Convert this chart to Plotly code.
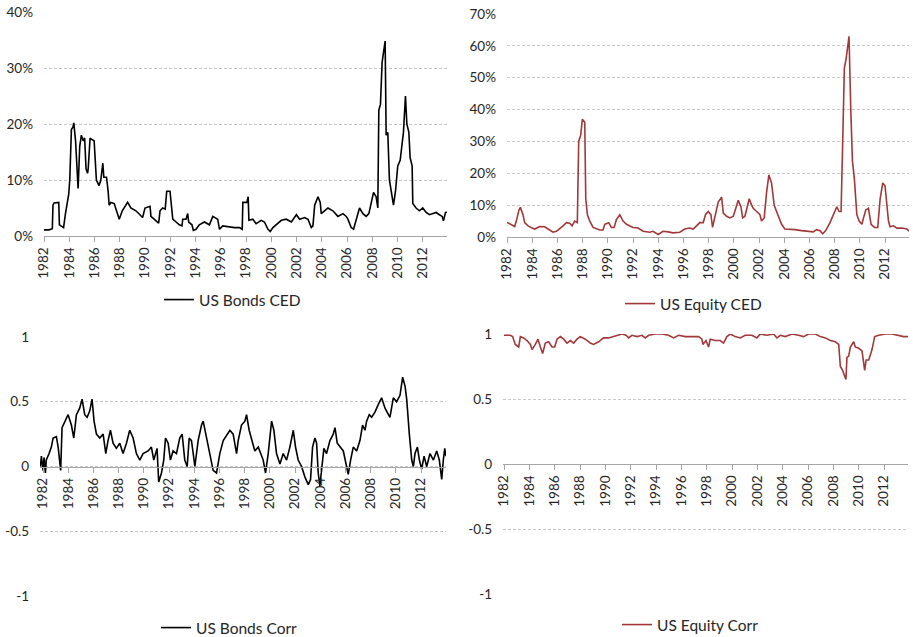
import plotly.graph_objects as go

# ---------------- DATA (decimal year, value) ----------------
bonds_ced = [
    (1982.00, 1.1), (1982.40, 1.1), (1982.66, 1.3), (1982.71, 5.5), (1982.80, 5.9), (1983.17, 6.0),
    (1983.22, 2.0), (1983.35, 1.8), (1983.55, 1.5), (1983.70, 4.0), (1983.83, 6.0), (1983.96, 7.5),
    (1984.04, 10.0), (1984.17, 19.0), (1984.30, 19.5), (1984.36, 20.2), (1984.50, 17.0), (1984.62, 10.0),
    (1984.70, 8.5), (1984.83, 16.0), (1984.96, 18.0), (1985.10, 17.0), (1985.22, 17.5), (1985.33, 12.0),
    (1985.45, 11.2), (1985.50, 12.0), (1985.65, 17.5), (1985.75, 17.3), (1985.97, 17.0), (1986.15, 10.0),
    (1986.36, 9.0), (1986.50, 10.0), (1986.66, 13.0), (1986.74, 10.5), (1986.95, 10.5), (1987.08, 8.0),
    (1987.16, 5.5), (1987.30, 6.0), (1987.56, 5.8), (1987.96, 3.0), (1988.20, 4.5), (1988.62, 6.0),
    (1988.88, 5.0), (1989.28, 4.5), (1989.81, 3.3), (1990.00, 5.0), (1990.40, 5.3), (1990.47, 3.5),
    (1990.87, 2.8), (1991.08, 2.3), (1991.19, 4.5), (1991.40, 5.0), (1991.60, 4.8), (1991.72, 8.0),
    (1991.98, 8.0), (1992.06, 6.5), (1992.20, 3.0), (1992.46, 2.5), (1992.72, 2.0), (1992.93, 1.8),
    (1992.99, 3.0), (1993.25, 3.0), (1993.38, 4.0), (1993.46, 2.5), (1993.72, 2.0), (1993.83, 1.0),
    (1994.04, 1.2), (1994.30, 2.0), (1994.70, 2.5), (1995.10, 2.0), (1995.37, 3.5), (1995.76, 3.0),
    (1995.90, 1.2), (1996.16, 1.8), (1996.69, 1.6), (1997.08, 1.5), (1997.48, 1.5), (1997.70, 1.2),
    (1997.75, 6.0), (1998.07, 6.0), (1998.17, 7.0), (1998.23, 2.8), (1998.54, 3.0), (1998.67, 2.5),
    (1998.80, 2.2), (1999.20, 2.8), (1999.46, 2.5), (1999.74, 1.2), (1999.92, 0.8), (2000.13, 1.5),
    (2000.53, 2.3), (2000.80, 2.8), (2001.19, 3.0), (2001.59, 2.5), (2001.99, 3.8), (2002.25, 3.0),
    (2002.65, 3.3), (2002.91, 3.0), (2003.17, 1.5), (2003.30, 1.8), (2003.44, 5.5), (2003.70, 7.0),
    (2003.88, 6.0), (2003.96, 4.0), (2004.22, 4.5), (2004.49, 5.0), (2004.88, 4.5), (2005.28, 3.5),
    (2005.68, 4.0), (2005.94, 3.5), (2006.07, 3.0), (2006.33, 1.5), (2006.52, 1.2), (2006.73, 3.0),
    (2006.99, 5.0), (2007.26, 4.0), (2007.52, 3.5), (2007.73, 4.0), (2007.92, 6.0), (2008.10, 7.8),
    (2008.31, 7.0), (2008.44, 5.0), (2008.52, 22.5), (2008.65, 23.5), (2008.78, 31.0), (2008.92, 33.0),
    (2009.02, 34.8), (2009.10, 18.0), (2009.23, 18.5), (2009.36, 10.0), (2009.58, 7.0), (2009.68, 5.5),
    (2009.84, 8.0), (2010.02, 12.5), (2010.21, 13.5), (2010.37, 17.0), (2010.47, 18.5), (2010.63, 25.0),
    (2010.74, 20.0), (2010.90, 18.5), (2011.00, 14.0), (2011.16, 12.5), (2011.21, 5.8), (2011.47, 5.0),
    (2011.74, 4.5), (2012.00, 5.0), (2012.27, 4.2), (2012.53, 3.8), (2012.80, 4.0), (2013.06, 4.2),
    (2013.32, 3.8), (2013.54, 3.5), (2013.64, 2.7), (2013.80, 4.2), (2013.90, 4.3),
]

equity_ced = [
    (1982.00, 4.6), (1982.34, 4.0), (1982.61, 3.3), (1982.74, 5.0), (1982.95, 8.5), (1983.06, 9.3),
    (1983.27, 7.0), (1983.40, 4.5), (1983.67, 3.5), (1983.99, 2.8), (1984.20, 2.5), (1984.60, 3.3),
    (1984.99, 3.2), (1985.26, 2.5), (1985.65, 1.5), (1985.92, 1.8), (1986.18, 2.5), (1986.45, 3.5),
    (1986.71, 4.5), (1986.98, 4.3), (1987.16, 3.5), (1987.37, 5.0), (1987.58, 4.5), (1987.69, 30.0),
    (1987.85, 32.0), (1987.98, 37.0), (1988.17, 36.0), (1988.25, 12.0), (1988.38, 7.0), (1988.57, 5.0),
    (1988.83, 3.0), (1989.10, 2.5), (1989.36, 2.2), (1989.62, 2.2), (1989.76, 4.0), (1990.07, 4.5),
    (1990.28, 3.0), (1990.50, 3.0), (1990.68, 5.5), (1990.95, 7.0), (1991.21, 5.0), (1991.48, 4.0),
    (1991.74, 3.5), (1992.00, 3.0), (1992.40, 2.8), (1992.80, 1.8), (1993.33, 1.5), (1993.59, 1.8),
    (1994.00, 0.8), (1994.38, 1.8), (1994.78, 1.6), (1995.18, 1.3), (1995.71, 1.5), (1996.10, 2.5),
    (1996.50, 2.8), (1996.77, 2.5), (1997.04, 3.5), (1997.30, 4.5), (1997.57, 4.5), (1997.75, 7.0),
    (1997.97, 8.0), (1998.18, 7.0), (1998.31, 3.0), (1998.50, 6.0), (1998.76, 11.0), (1999.03, 12.5),
    (1999.16, 7.5), (1999.43, 6.5), (1999.69, 6.0), (1999.96, 6.5), (2000.22, 10.0), (2000.35, 11.5),
    (2000.56, 9.5), (2000.70, 6.0), (2000.88, 6.5), (2001.01, 9.0), (2001.22, 12.0), (2001.41, 10.0),
    (2001.54, 9.0), (2001.81, 8.0), (2002.07, 7.0), (2002.20, 5.0), (2002.41, 6.0), (2002.60, 14.0),
    (2002.78, 19.5), (2002.99, 17.0), (2003.20, 10.0), (2003.39, 8.0), (2003.79, 4.0), (2004.05, 2.5),
    (2004.45, 2.5), (2004.85, 2.3), (2005.38, 2.0), (2005.91, 1.8), (2006.30, 1.6), (2006.57, 2.3),
    (2006.84, 2.0), (2007.05, 1.0), (2007.29, 2.0), (2007.63, 4.5), (2007.90, 7.0), (2008.17, 9.5),
    (2008.35, 8.0), (2008.51, 8.0), (2008.64, 30.0), (2008.77, 53.0), (2008.91, 56.0), (2009.04, 60.0),
    (2009.14, 63.0), (2009.28, 40.0), (2009.41, 24.0), (2009.57, 18.0), (2009.76, 7.0), (2009.94, 5.0),
    (2010.16, 4.0), (2010.29, 6.0), (2010.47, 8.5), (2010.68, 9.0), (2010.89, 4.0), (2011.16, 3.0),
    (2011.42, 3.0), (2011.61, 12.0), (2011.82, 17.0), (2012.00, 16.0), (2012.27, 5.0), (2012.40, 3.2),
    (2012.67, 3.5), (2012.93, 2.8), (2013.33, 2.8), (2013.73, 2.5), (2013.90, 1.8),
]

bonds_corr = [
    (1981.79, 0.00), (1981.87, 0.08), (1982.00, -0.03), (1982.08, 0.07), (1982.19, -0.05), (1982.26, 0.05),
    (1982.48, 0.10), (1982.66, 0.15), (1982.80, 0.22), (1983.06, 0.23), (1983.20, 0.15), (1983.32, 0.05),
    (1983.40, -0.03), (1983.51, 0.30), (1983.72, 0.35), (1983.99, 0.40), (1984.25, 0.32), (1984.44, 0.22),
    (1984.65, 0.40), (1984.91, 0.45), (1985.10, 0.52), (1985.31, 0.40), (1985.50, 0.38), (1985.71, 0.43),
    (1985.89, 0.52), (1986.05, 0.35), (1986.24, 0.25), (1986.50, 0.22), (1986.77, 0.25), (1986.98, 0.10),
    (1987.16, 0.20), (1987.35, 0.28), (1987.56, 0.18), (1987.82, 0.14), (1988.09, 0.18), (1988.35, 0.10),
    (1988.62, 0.18), (1988.88, 0.28), (1989.15, 0.22), (1989.41, 0.10), (1989.68, 0.05), (1989.94, 0.10),
    (1990.34, 0.12), (1990.60, 0.15), (1990.79, 0.05), (1990.92, 0.10), (1991.05, 0.14), (1991.18, -0.12),
    (1991.40, -0.05), (1991.58, 0.05), (1991.72, 0.22), (1991.93, 0.18), (1992.11, 0.05), (1992.32, 0.12),
    (1992.59, 0.10), (1992.85, 0.22), (1993.04, 0.25), (1993.25, 0.05), (1993.44, 0.00), (1993.60, 0.22),
    (1993.78, 0.20), (1993.92, 0.10), (1994.05, 0.00), (1994.31, 0.20), (1994.58, 0.32), (1994.71, 0.35),
    (1994.92, 0.25), (1995.24, 0.10), (1995.50, -0.03), (1995.77, -0.05), (1996.03, 0.10), (1996.30, 0.20),
    (1996.56, 0.24), (1996.83, 0.28), (1997.09, 0.25), (1997.36, 0.10), (1997.49, 0.20), (1997.75, 0.32),
    (1998.02, 0.35), (1998.15, 0.40), (1998.36, 0.28), (1998.60, 0.20), (1998.81, 0.12), (1999.08, 0.15),
    (1999.26, 0.10), (1999.47, 0.05), (1999.66, -0.05), (1999.87, 0.10), (2000.14, 0.35), (2000.32, 0.28),
    (2000.53, 0.10), (2000.80, 0.02), (2001.06, 0.10), (2001.33, 0.05), (2001.59, 0.15), (2001.86, 0.28),
    (2002.04, 0.15), (2002.25, 0.05), (2002.52, 0.00), (2002.78, -0.08), (2003.05, -0.14), (2003.23, -0.10),
    (2003.39, 0.15), (2003.58, 0.22), (2003.71, 0.18), (2003.84, -0.05), (2003.97, -0.15), (2004.11, 0.00),
    (2004.29, 0.14), (2004.50, 0.10), (2004.77, 0.20), (2005.03, 0.25), (2005.17, 0.30), (2005.35, 0.18),
    (2005.56, 0.15), (2005.83, 0.12), (2006.09, 0.00), (2006.22, -0.06), (2006.41, 0.05), (2006.62, 0.15),
    (2006.89, 0.12), (2007.15, 0.20), (2007.36, 0.32), (2007.55, 0.28), (2007.68, 0.35), (2007.89, 0.40),
    (2008.08, 0.38), (2008.34, 0.42), (2008.61, 0.48), (2008.87, 0.53), (2009.14, 0.45), (2009.40, 0.40),
    (2009.53, 0.38), (2009.80, 0.53), (2010.06, 0.50), (2010.33, 0.55), (2010.54, 0.69), (2010.73, 0.62),
    (2010.86, 0.52), (2011.07, 0.25), (2011.26, 0.05), (2011.39, 0.00), (2011.52, 0.10), (2011.71, 0.15),
    (2011.87, 0.05), (2012.05, -0.02), (2012.24, 0.08), (2012.45, 0.00), (2012.71, 0.10), (2012.98, 0.05),
    (2013.24, 0.12), (2013.45, 0.05), (2013.64, -0.10), (2013.77, 0.05), (2013.88, 0.14), (2013.98, 0.08),
]

equity_corr = [
    (1982.00, 0.99), (1982.50, 0.99), (1982.68, 0.98), (1982.89, 0.92), (1983.16, 0.90), (1983.29, 0.98),
    (1983.55, 0.97), (1983.81, 0.95), (1984.08, 0.92), (1984.21, 0.88), (1984.47, 0.92), (1984.68, 0.96),
    (1984.87, 0.90), (1985.05, 0.85), (1985.26, 0.93), (1985.52, 0.94), (1985.79, 0.90), (1986.00, 0.90),
    (1986.18, 0.96), (1986.45, 0.98), (1986.71, 0.96), (1986.97, 0.93), (1987.24, 0.95), (1987.50, 0.93),
    (1987.76, 0.96), (1988.02, 0.98), (1988.42, 0.96), (1988.81, 0.93), (1989.07, 0.92), (1989.47, 0.94),
    (1989.86, 0.97), (1990.26, 0.97), (1990.65, 0.98), (1991.05, 0.99), (1991.31, 1.00), (1991.63, 0.99),
    (1991.84, 0.97), (1992.10, 0.99), (1992.50, 0.98), (1992.89, 0.99), (1993.15, 0.97), (1993.42, 0.99),
    (1993.94, 1.00), (1994.47, 1.00), (1994.99, 0.99), (1995.39, 0.97), (1995.78, 0.99), (1996.31, 0.98),
    (1996.84, 0.98), (1997.36, 0.98), (1997.62, 0.96), (1997.70, 0.92), (1997.94, 0.95), (1998.15, 0.90),
    (1998.28, 0.96), (1998.67, 0.95), (1999.07, 0.95), (1999.33, 0.93), (1999.59, 0.98), (1999.86, 1.00),
    (2000.25, 0.98), (2000.65, 0.97), (2001.04, 0.99), (2001.57, 0.99), (2001.96, 0.97), (2002.23, 1.00),
    (2002.75, 0.99), (2003.28, 1.00), (2003.54, 0.97), (2003.81, 0.99), (2004.20, 0.98), (2004.73, 1.00),
    (2005.25, 0.99), (2005.65, 0.98), (2006.04, 1.00), (2006.57, 1.00), (2006.97, 0.98), (2007.36, 0.97),
    (2007.76, 0.95), (2008.15, 0.94), (2008.42, 0.92), (2008.55, 0.75), (2008.73, 0.72), (2008.89, 0.68),
    (2008.99, 0.65), (2009.07, 0.82), (2009.21, 0.83), (2009.34, 0.90), (2009.60, 0.94), (2009.73, 0.90),
    (2010.00, 0.89), (2010.26, 0.87), (2010.47, 0.72), (2010.58, 0.80), (2010.79, 0.80), (2011.05, 0.88),
    (2011.26, 0.98), (2011.58, 0.99), (2012.10, 1.00), (2012.63, 1.00), (2013.15, 0.99), (2013.55, 0.98),
    (2013.89, 0.98),
]

year_ticks = list(range(1982, 2013, 2))
ced_bonds_ticks = [0, 0.1, 0.2, 0.3, 0.4]
ced_equity_ticks = [0, 0.1, 0.2, 0.3, 0.4, 0.5, 0.6, 0.7]
corr_ticks = [-1, -0.5, 0, 0.5, 1]
corr_tick_text = ["-1", "-0.5", "0", "0.5", "1"]

# ---------------- STYLE ----------------
W, H = 913, 637
FONT = "Lato, 'Open Sans', sans-serif"
TXT = "#262626"
GRID = "#c8c8c8"
AXIS = "#a6a6a6"
BLACK = "#000000"
RED = "#a3383a"

def px_dom_x(a, b):
    return [a / W, b / W]

def px_dom_y(top, bottom):
    return [1 - bottom / H, 1 - top / H]

fig = go.Figure()

def add(series, name, color, idx, scale, legend):
    xs = [p[0] for p in series]
    ys = [p[1] * scale for p in series]
    fig.add_trace(go.Scatter(
        x=xs, y=ys, mode="lines", name=name,
        line=dict(color=color, width=1.6),
        xaxis="x" if idx == 1 else f"x{idx}",
        yaxis="y" if idx == 1 else f"y{idx}",
        legend=legend, showlegend=True,
    ))

add(bonds_ced, "US Bonds CED", BLACK, 1, 0.01, "legend")
add(equity_ced, "US Equity CED", RED, 2, 0.01, "legend2")
add(bonds_corr, "US Bonds Corr", BLACK, 3, 1, "legend3")
add(equity_corr, "US Equity Corr", RED, 4, 1, "legend4")

def xaxis(dom, rng, anchor, position=None):
    d = dict(
        domain=dom, range=rng, tickmode="array", tickvals=year_ticks,
        ticktext=[str(v) for v in year_ticks], tickangle=-90,
        showgrid=False, zeroline=False, showline=True, linecolor=AXIS, linewidth=1,
        ticks="outside", ticklen=5, tickcolor=AXIS, tickwidth=1,
        tickfont=dict(family=FONT, size=13.5, color=TXT),
        fixedrange=True, automargin=False,
    )
    if position is None:
        d["anchor"] = anchor
    else:
        d["anchor"] = "free"
        d["position"] = position
    return d

def yaxis(dom, rng, tickvals, anchor, ticktext=None, fmt=None):
    d = dict(
        domain=dom, range=rng, tickmode="array", tickvals=tickvals,
        showgrid=True, gridcolor=GRID, gridwidth=1, griddash="3px,2px",
        zeroline=False, showline=False, ticks="",
        tickfont=dict(family=FONT, size=13.5, color=TXT),
        anchor=anchor, ticklabelstandoff=10, fixedrange=True, automargin=False,
    )
    if ticktext is not None:
        d["ticktext"] = ticktext
    if fmt is not None:
        d["tickformat"] = fmt
    return d

# pixel layout
d1x, d1y = px_dom_x(44, 447), px_dom_y(12, 236)
d2x, d2y = px_dom_x(507, 909), px_dom_y(14, 237)
d3x, d3y = px_dom_x(40, 446), px_dom_y(337, 596)
d4x, d4y = px_dom_x(503, 908), px_dom_y(334, 594)

pos3 = d3y[0] + 0.5 * (d3y[1] - d3y[0])
pos4 = d4y[0] + 0.5 * (d4y[1] - d4y[0])

def leg(x_px, y_px):
    return dict(x=x_px / W, y=1 - y_px / H, xanchor="left", yanchor="middle",
                orientation="h", bgcolor="rgba(0,0,0,0)",
                font=dict(family=FONT, size=15.5, color=TXT))

fig.update_layout(
    template="none",
    width=W, height=H, margin=dict(l=0, r=0, t=0, b=0, autoexpand=False),
    paper_bgcolor="white", plot_bgcolor="white",
    font=dict(family=FONT, color=TXT),
    xaxis=xaxis(d1x, [1982, 2013.92], "y"),
    yaxis=yaxis(d1y, [0, 0.4], ced_bonds_ticks, "x", fmt=".0%"),
    xaxis2=xaxis(d2x, [1982, 2013.9], "y2"),
    yaxis2=yaxis(d2y, [0, 0.7], ced_equity_ticks, "x2", fmt=".0%"),
    xaxis3=xaxis(d3x, [1981.76, 2013.98], None, position=pos3),
    yaxis3=yaxis(d3y, [-1, 1], corr_ticks, "x3", ticktext=corr_tick_text),
    xaxis4=xaxis(d4x, [1981.92, 2013.89], None, position=pos4),
    yaxis4=yaxis(d4y, [-1, 1], corr_ticks, "x4", ticktext=corr_tick_text),
    legend=leg(159, 300),
    legend2=leg(620, 304),
    legend3=leg(156, 628),
    legend4=leg(617, 625),
)

fig.write_html(
    "out.html",
    config={"displayModeBar": False, "staticPlot": True},
    post_script="document.body.style.margin='0';document.body.style.overflow='hidden';",
)
